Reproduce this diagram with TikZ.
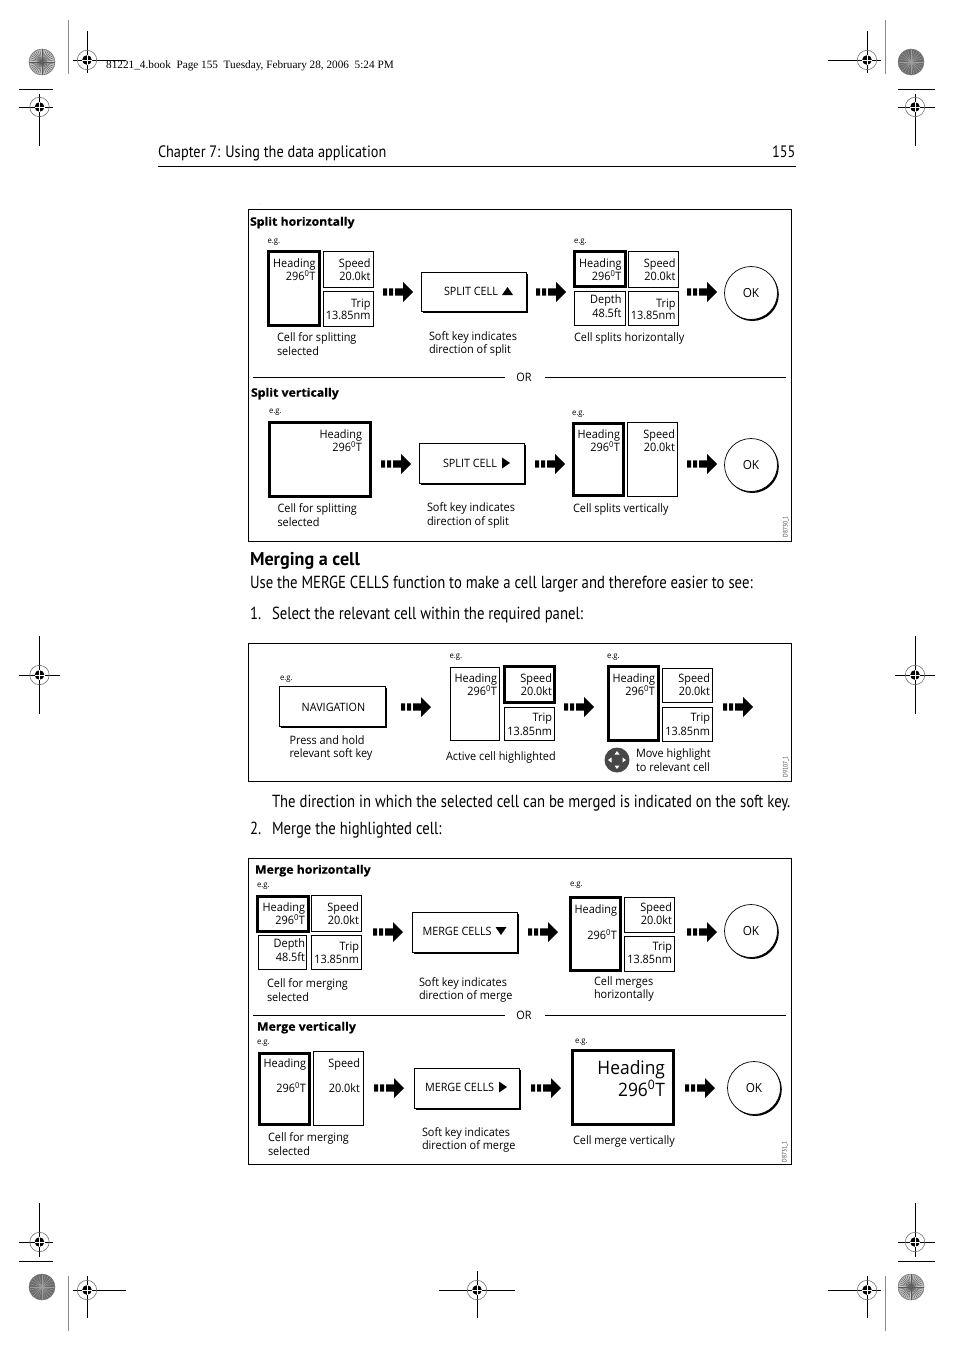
\documentclass[tikz,border=0pt]{standalone}
\usepackage{fontspec}
\setmainfont{Open Sans}
\newfontfamily\figfont[FakeStretch=0.94]{Open Sans}
\newfontfamily\figbold[FakeStretch=1.06,BoldFeatures={FakeBold=0.5}]{Open Sans}
\newfontfamily\bodyfont[FakeStretch=0.84]{PT Sans}
\newfontfamily\chapfont[FakeStretch=0.866]{PT Sans}
\newfontfamily\boldbody[FakeStretch=0.98]{PT Sans}
\newfontfamily\codefont[FakeStretch=0.85]{PT Sans}
\newfontfamily\headserif{Liberation Serif}
\tikzset{
  x=1pt,y=-1pt,
  lab/.style={inner sep=0pt,outer sep=0pt,anchor=mid west,align=left,yshift=-1pt,font=\figfont\fontsize{11.6}{13.8}\selectfont},
  labtwo/.style={inner sep=0pt,outer sep=0pt,anchor=west,align=left,font=\figfont\fontsize{11.6}{13.8}\selectfont},
  val/.style={inner sep=0pt,outer sep=0pt,anchor=mid east,yshift=-1.3pt,font=\figfont\fontsize{11.6}{13}\selectfont},
  bigval/.style={inner sep=0pt,outer sep=0pt,anchor=mid east,yshift=-3.5pt,font=\figfont\fontsize{18.5}{22}\selectfont},
  eg/.style={inner sep=0pt,outer sep=0pt,anchor=mid west,font=\figfont\fontsize{8.2}{10}\selectfont},
  ttl/.style={inner sep=0pt,outer sep=0pt,anchor=mid west,yshift=-2pt,font=\figbold\bfseries\fontsize{11.6}{13}\selectfont},
  bodytxt/.style={inner sep=0pt,outer sep=0pt,anchor=mid west,yshift=-3.5pt,font=\bodyfont\fontsize{17.5}{20}\selectfont},
  chaptxt/.style={inner sep=0pt,outer sep=0pt,anchor=mid west,yshift=-3.5pt,font=\chapfont\fontsize{16.5}{20}\selectfont},
  headbold/.style={inner sep=0pt,outer sep=0pt,anchor=mid west,yshift=-3pt,font=\boldbody\bfseries\fontsize{18.5}{20}\selectfont},
  code/.style={inner sep=0pt,outer sep=0pt,rotate=90,font=\codefont\fontsize{6.5}{7}\selectfont,text=black!75},
  panel/.style={draw=black,line width=0.9pt,fill=white,inner sep=0pt,outer sep=0pt},
  thincell/.style={draw=black,line width=0.9pt,fill=white,inner sep=0pt,outer sep=0pt},
  thickcell/.style={draw=black,line width=3.4pt,fill=white,inner sep=0pt,outer sep=0pt},
  softkey/.style={draw=black,line width=0.9pt,fill=white,inner sep=0pt,outer sep=0pt},
  softshadow/.style={fill=black,draw=none,inner sep=0pt},
  keytext/.style={inner sep=0pt,outer sep=0pt,anchor=mid west,yshift=-1.7pt,font=\figfont\fontsize{11.5}{13}\selectfont},
  rulethin/.style={draw=black,line width=0.8pt},
  grayrule/.style={draw=black!45,line width=0.9pt},
  tri/.style={fill=black,draw=none},
  okbtn/.style={circle,draw=black,line width=0.7pt,fill=white,inner sep=0pt,outer sep=0pt,minimum size=53pt,font=\figfont\fontsize{12.5}{14}\selectfont},
  okshadow/.style={circle,fill=black,draw=none,inner sep=0pt,minimum size=53pt},
}
% boxes from outer pixel edges
\newcommand{\boxat}[6]{%
  \pgfmathsetmacro{\bw}{(#4)-(#2)}\pgfmathsetmacro{\bh}{(#5)-(#3)}%
  \node[#6,minimum width=\bw pt,minimum height=\bh pt] (#1) at ({((#2)+(#4))/2},{((#3)+(#5))/2}) {};}
\newcommand{\thincellbox}[5]{\pgfmathsetmacro{\xa}{#2+.45}\pgfmathsetmacro{\ya}{#3+.45}\pgfmathsetmacro{\xb}{#4-.45}\pgfmathsetmacro{\yb}{#5-.45}\boxat{#1}{\xa}{\ya}{\xb}{\yb}{thincell}}
\newcommand{\thickcellbox}[5]{\pgfmathsetmacro{\xa}{#2+1.7}\pgfmathsetmacro{\ya}{#3+1.7}\pgfmathsetmacro{\xb}{#4-1.7}\pgfmathsetmacro{\yb}{#5-1.7}\boxat{#1}{\xa}{\ya}{\xb}{\yb}{thickcell}}
% soft key with shadow
\newcommand{\softkeybox}[5]{%
  \boxat{#1s}{#2+2.4}{#3+2.4}{#4+2}{#5+2}{softshadow}%
  \boxat{#1}{#2}{#3}{#4}{#5}{softkey}}
\newcommand{\trup}[2]{\fill[tri,shift={(#1,#2)}] (-5.5,4) -- (5.5,4) -- (0,-4) -- cycle;}
\newcommand{\trdown}[2]{\fill[tri,shift={(#1,#2)}] (-5.5,-4) -- (5.5,-4) -- (0,4) -- cycle;}
\newcommand{\trright}[2]{\fill[tri,shift={(#1,#2)}] (-4,-5.5) -- (-4,5.5) -- (4,0) -- cycle;}
% block arrow
\newcommand{\blockarrow}[3]{%
  \coordinate (#1) at (#2,#3);
  \fill[shift={(#2,#3)}] (0,-3.6) rectangle (4,3.6) (6,-3.6) rectangle (10,3.6)
     (12,-3.6) -- (20,-3.6) -- (20,-10) -- (30,0) -- (20,10) -- (20,3.6) -- (12,3.6) -- cycle;}
% OK button
\newcommand{\okbutton}[3]{%
  \node[okshadow] (#1s) at (#2+1.3,#3+1.5) {};
  \node[okbtn] (#1) at (#2,#3) {OK};}
% registration mark: name x y left right top bottom
\newcommand{\regmark}[7]{%
  \coordinate (#1) at (#2,#3);
  \draw[black,line width=0.9pt] (#2-#4,#3) -- (#2+#5,#3) (#2,#3-#6) -- (#2,#3+#7);
  \draw[black!55,line width=0.6pt] (#1) circle (9.7);
  \fill[black] (#1) circle (4.8);
  \draw[white,line width=0.7pt] (#2-5,#3) -- (#2+5,#3) (#2,#3-5) -- (#2,#3+5);}
\newcommand{\spokes}[3]{%
  \coordinate (#1) at (#2,#3);
  \fill[black!22] (#1) circle (13);
  \foreach \a in {0,10,...,350}{\draw[black!65,line width=0.42pt] (#1) -- ++(\a:13);}
  \draw[black!55,line width=0.5pt] (#1) circle (13);
  \fill[black!60] (#1) circle (1.3);}
\newcommand{\darkdisc}[3]{%
  \coordinate (#1) at (#2,#3);
  \fill[black!58] (#1) circle (13);
  \foreach \a in {0,15,...,345}{\draw[black!38,line width=0.4pt] (#1) -- ++(\a:12.5);}
  \draw[black!55,line width=0.5pt] (#1) circle (13);}
\begin{document}
\begin{tikzpicture}
\useasboundingbox (0,0) rectangle (954,1351);
\fill[white] (0,0) rectangle (954,1351);

% ---- printer marks
\spokes{dA}{42}{62}
\darkdisc{dB}{911}{62}
\darkdisc{dC}{42}{1287}
\spokes{dD}{911}{1287}
\coordinate (gA1) at (68.5,20); \coordinate (gA2) at (68.5,74);
\coordinate (gB1) at (885.5,20); \coordinate (gB2) at (885.5,74);
\coordinate (gC1) at (68.5,1276); \coordinate (gC2) at (68.5,1331);
\coordinate (gD1) at (885.5,1276); \coordinate (gD2) at (885.5,1331);
\draw[grayrule] (gA1)--(gA2) (gB1)--(gB2) (gC1)--(gC2) (gD1)--(gD2);
\regmark{rA}{87}{60}{14}{39}{29}{13}
\regmark{rB}{867}{60}{39}{14}{29}{13}
\regmark{rC}{39.5}{107}{20.5}{13.5}{13}{39}
\regmark{rD}{915}{107}{17}{20}{13}{39}
\regmark{rE}{39.5}{675}{20.5}{20.5}{39}{39}
\regmark{rF}{915}{675}{20}{20}{39}{39}
\regmark{rG}{39.5}{1242}{20.5}{13.5}{39}{15}
\regmark{rH}{915}{1242}{17}{20}{39}{15}
\regmark{rI}{87}{1290}{14}{39}{14}{28}
\regmark{rJ}{867}{1290}{39}{14}{14}{28}
\regmark{rK}{477}{1290}{38}{38}{19}{28}
\coordinate (mA1) at (19,89); \coordinate (mA2) at (53,89);
\coordinate (mB1) at (898,89); \coordinate (mB2) at (935,89);
\coordinate (mC1) at (19,1261); \coordinate (mC2) at (53,1261);
\coordinate (mD1) at (898,1261); \coordinate (mD2) at (935,1261);
\draw[black,line width=0.9pt] (mA1)--(mA2) (mB1)--(mB2) (mC1)--(mC2) (mD1)--(mD2);

% ---- page header
\node[inner sep=0pt,anchor=mid west,font=\headserif\fontsize{11.25}{13}\selectfont] (book) at (106,65.5) {81221\_4.book\ \ Page 155\ \ Tuesday, February 28, 2006\ \ 5:24 PM};
\node[chaptxt] (chap) at (158,151) {Chapter 7: Using the data application};
\node[chaptxt,anchor=mid east] (pgno) at (795.5,151) {155};
\coordinate (hr1) at (158,166.5); \coordinate (hr2) at (796,166.5);
\draw[rulethin] (hr1)--(hr2);
\node[eg,text=black!50,font=\figfont\fontsize{5}{6}\selectfont] (dot) at (259.5,202) {.};

% ---- panels
\boxat{pA}{248}{209.5}{791.5}{541.5}{panel}
\boxat{pB}{248}{643.5}{791.5}{781.5}{panel}
\boxat{pC}{248}{858.5}{791.5}{1164.5}{panel}

% ---- Split horizontally
\node[ttl] (t1) at (250,221) {Split horizontally};
\node[eg] (e1) at (267.5,240.5) {e.g.};
\thickcellbox{a1}{267}{249.5}{321}{327}
\thincellbox{a2}{323}{251}{374}{288}
\thincellbox{a3}{323}{291}{374}{327}
\node[val] (a1a) at (315.5,263.5) {Heading};
\node[val] (a1b) at (315.5,277) {296\textsuperscript{0}T};
\node[val] (a2a) at (370.5,263.5) {Speed};
\node[val] (a2b) at (370.5,277) {20.0kt};
\node[val] (a3a) at (370.5,303.5) {Trip};
\node[val] (a3b) at (370.5,316) {13.85nm};
\blockarrow{ar1}{383}{292}
\softkeybox{k1}{421}{272}{526}{311}
\node[keytext] (k1t) at (444,291) {SPLIT CELL};
\trup{507.5}{291}
\blockarrow{ar2}{536}{292}
\node[eg] (e2) at (574,241) {e.g.};
\thickcellbox{b1}{573}{250}{627}{288}
\thincellbox{b2}{628}{251}{679}{288}
\thincellbox{b3}{574}{291}{626}{326}
\thincellbox{b4}{628}{291}{679}{326}
\node[val] (b1a) at (621.5,263.5) {Heading};
\node[val] (b1b) at (621.5,277) {296\textsuperscript{0}T};
\node[val] (b2a) at (675.5,263.5) {Speed};
\node[val] (b2b) at (675.5,277) {20.0kt};
\node[val] (b3a) at (621.5,300) {Depth};
\node[val] (b3b) at (621.5,314) {48.5ft};
\node[val] (b4a) at (675.5,303.5) {Trip};
\node[val] (b4b) at (675.5,316) {13.85nm};
\blockarrow{ar3}{687}{292}
\okbutton{ok1}{751}{293}
\node[labtwo] (c1) at (277,344) {Cell for splitting\\selected};
\node[labtwo] (c2) at (429,344) {Soft key indicates\\direction of split};
\node[lab] (c3) at (574,337.5) {Cell splits horizontally};

% OR line 1
\node[lab,anchor=center,yshift=1pt] (or1) at (524,377) {OR};
\coordinate (o1a) at (253,377.5); \coordinate (o1b) at (505,377.5);
\coordinate (o1c) at (545,377.5); \coordinate (o1d) at (786,377.5);
\draw[rulethin] (o1a)--(o1b) (o1c)--(o1d);

% ---- Split vertically
\node[ttl] (t2) at (251,392) {Split vertically};
\node[eg] (e3) at (269,410.5) {e.g.};
\thickcellbox{d1}{268}{421}{372}{498}
\node[val] (d1a) at (362,434.5) {Heading};
\node[val] (d1b) at (362,447.5) {296\textsuperscript{0}T};
\blockarrow{ar4}{381}{464}
\softkeybox{k2}{419}{443}{524}{483}
\node[keytext] (k2t) at (443,463) {SPLIT CELL};
\trright{506}{463}
\blockarrow{ar5}{535}{464}
\node[eg] (e4) at (572,412.5) {e.g.};
\thickcellbox{f1}{572}{422}{625}{497}
\thincellbox{f2}{627}{422}{678}{497}
\node[val] (f1a) at (620,434.5) {Heading};
\node[val] (f1b) at (620,448) {296\textsuperscript{0}T};
\node[val] (f2a) at (675,434.5) {Speed};
\node[val] (f2b) at (675,448) {20.0kt};
\blockarrow{ar6}{687}{464}
\okbutton{ok2}{751}{465}
\node[labtwo] (c4) at (277.5,515.5) {Cell for splitting\\selected};
\node[labtwo] (c5) at (427,515.5) {Soft key indicates\\direction of split};
\node[lab] (c6) at (573,509) {Cell splits vertically};
\node[code] (cd1) at (786,527) {D8730\_1};

% ---- body text
\node[headbold] (h1) at (250,559.5) {Merging a cell};
\node[bodytxt] (b01) at (250,582) {Use the MERGE CELLS function to make a cell larger and therefore easier to see:};
\node[bodytxt] (n1) at (250,613.5) {1.};
\node[bodytxt] (b02) at (272,613.5) {Select the relevant cell within the required panel:};

% ---- panel 2
\node[eg] (e5) at (280,677.5) {e.g.};
\softkeybox{k3}{279}{686}{385}{726}
\node[keytext,anchor=center,yshift=0.8pt] (k3t) at (333.5,706) {NAVIGATION};
\blockarrow{ar7}{401}{707}
\node[labtwo] (c7) at (289.5,748) {Press and hold\\relevant soft key};
\node[eg] (e6) at (449.5,655.5) {e.g.};
\thincellbox{g1}{450}{667}{500}{741}
\thickcellbox{g2}{503}{665}{556}{704}
\thincellbox{g3}{504}{707}{555}{741}
\node[val] (g1a) at (497,679) {Heading};
\node[val] (g1b) at (497,692) {296\textsuperscript{0}T};
\node[val] (g2a) at (552,679) {Speed};
\node[val] (g2b) at (552,692) {20.0kt};
\node[val] (g3a) at (552,718) {Trip};
\node[val] (g3b) at (552,732) {13.85nm};
\node[lab] (c8) at (446,757) {Active cell highlighted};
\blockarrow{ar8}{564}{707}
\node[eg] (e7) at (607,655.5) {e.g.};
\thickcellbox{h11}{607}{665}{660}{742}
\thincellbox{h12}{662}{668}{713}{703}
\thincellbox{h13}{662}{707}{713}{742}
\node[val] (h1a) at (655,679) {Heading};
\node[val] (h1b) at (655,692) {296\textsuperscript{0}T};
\node[val] (h2a) at (710,679) {Speed};
\node[val] (h2b) at (710,692) {20.0kt};
\node[val] (h3a) at (710,718) {Trip};
\node[val] (h3b) at (710,732) {13.85nm};
\blockarrow{ar9}{723}{707}
\fill[black!72] (617,760) circle (12.5);
\fill[white] (617,751) -- (614.5,754.5) -- (619.5,754.5) -- cycle
             (617,769) -- (614.5,765.5) -- (619.5,765.5) -- cycle
             (608,760) -- (611.5,757.5) -- (611.5,762.5) -- cycle
             (626,760) -- (622.5,757.5) -- (622.5,762.5) -- cycle;
\node[labtwo] (c9) at (636,760.5) {Move highlight\\to relevant cell};
\node[code] (cd2) at (786,767) {D9107\_1};

\node[bodytxt] (b03) at (272,801) {The direction in which the selected cell can be merged is indicated on the soft key.};
\node[bodytxt] (n2) at (250,828) {2.};
\node[bodytxt] (b04) at (272,828) {Merge the highlighted cell:};

% ---- Merge horizontally
\node[ttl] (t3) at (255,869) {Merge horizontally};
\node[eg] (e8) at (257,885) {e.g.};
\thickcellbox{m1}{256}{895}{310}{933}
\thincellbox{m2}{311}{895}{362}{932}
\thincellbox{m3}{258}{935}{307}{970}
\thincellbox{m4}{311}{935}{362}{970}
\node[val] (m1a) at (305,907.5) {Heading};
\node[val] (m1b) at (305,921) {296\textsuperscript{0}T};
\node[val] (m2a) at (359,907.5) {Speed};
\node[val] (m2b) at (359,921) {20.0kt};
\node[val] (m3a) at (305,944) {Depth};
\node[val] (m3b) at (305,958) {48.5ft};
\node[val] (m4a) at (359,947) {Trip};
\node[val] (m4b) at (359,960) {13.85nm};
\blockarrow{ar10}{373}{932}
\softkeybox{k4}{412}{912}{517}{952}
\node[keytext] (k4t) at (422.5,931) {MERGE CELLS};
\trdown{501}{931}
\blockarrow{ar11}{528}{932}
\node[eg] (e9) at (570,884) {e.g.};
\thickcellbox{q1}{569}{896}{622}{972}
\thincellbox{q2}{624}{897}{675}{933}
\thincellbox{q3}{624}{936}{675}{972}
\node[val] (q1a) at (617,909.5) {Heading};
\node[val] (q1b) at (617,936) {296\textsuperscript{0}T};
\node[val] (q2a) at (672,907.5) {Speed};
\node[val] (q2b) at (672,921) {20.0kt};
\node[val] (q3a) at (672,947) {Trip};
\node[val] (q3b) at (672,960) {13.85nm};
\blockarrow{ar12}{687}{932}
\okbutton{ok3}{751}{931}
\node[labtwo] (c10) at (267,990) {Cell for merging\\selected};
\node[labtwo] (c11) at (419,990) {Soft key indicates\\direction of merge};
\node[labtwo] (c12) at (594,989) {Cell merges\\horizontally};

% OR line 2
\node[lab,anchor=center,yshift=1pt] (or2) at (524,1015) {OR};
\coordinate (o2a) at (253,1015.5); \coordinate (o2b) at (505,1015.5);
\coordinate (o2c) at (545,1015.5); \coordinate (o2d) at (786,1015.5);
\draw[rulethin] (o2a)--(o2b) (o2c)--(o2d);

% ---- Merge vertically
\node[ttl] (t4) at (257,1026) {Merge vertically};
\node[eg] (e10) at (257,1042) {e.g.};
\thickcellbox{r1}{258}{1052}{311}{1126}
\thincellbox{r2}{313}{1051}{364}{1126}
\node[val] (r1a) at (306,1063.5) {Heading};
\node[val] (r1b) at (306,1089) {296\textsuperscript{0}T};
\node[val] (r2a) at (360,1063.5) {Speed};
\node[val] (r2b) at (360,1089) {20.0kt};
\blockarrow{ar13}{374}{1088}
\softkeybox{k5}{414}{1068}{519}{1108}
\node[keytext] (k5t) at (425,1087) {MERGE CELLS};
\trright{503}{1087}
\blockarrow{ar14}{531}{1088}
\node[eg] (e11) at (575,1041) {e.g.};
\thickcellbox{s1}{571}{1049}{675}{1126}
\node[bigval] (s1a) at (665,1068) {Heading};
\node[bigval] (s1b) at (665,1090) {296\textsuperscript{0}T};
\blockarrow{ar15}{685}{1088}
\okbutton{ok4}{754}{1088}
\node[labtwo] (c13) at (268,1144) {Cell for merging\\selected};
\node[labtwo] (c14) at (422,1140) {Soft key indicates\\direction of merge};
\node[lab] (c15) at (573,1141) {Cell merge vertically};
\node[code] (cd3) at (785,1152) {D8731\_1};
\end{tikzpicture}
\end{document}
